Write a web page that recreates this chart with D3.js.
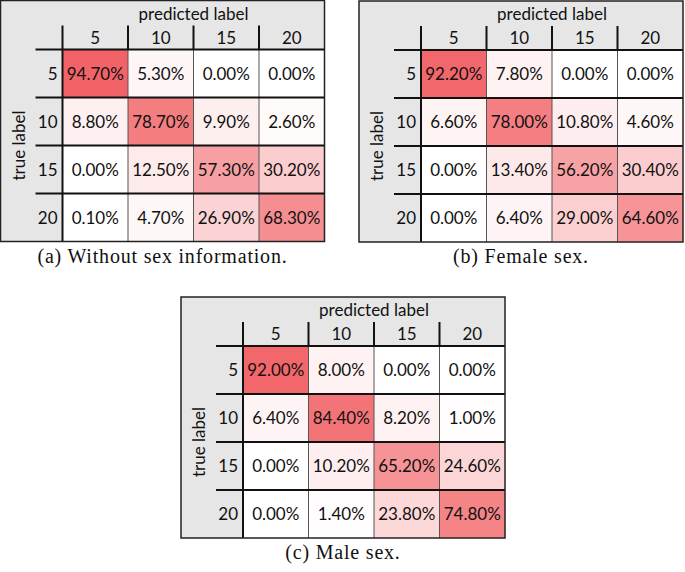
<!DOCTYPE html>
<html><head><meta charset="utf-8">
<script src="https://cdn.jsdelivr.net/npm/d3@7"></script>
<style>body{margin:0;background:#fff;} svg{display:block;}</style>
</head><body>
<script>
const categories = ["5", "10", "15", "20"];
const valuesA = [[94.7, 5.3, 0.0, 0.0], [8.8, 78.7, 9.9, 2.6], [0.0, 12.5, 57.3, 30.2], [0.1, 4.7, 26.9, 68.3]];
const valuesB = [[92.2, 7.8, 0.0, 0.0], [6.6, 78.0, 10.8, 4.6], [0.0, 13.4, 56.2, 30.4], [0.0, 6.4, 29.0, 64.6]];
const valuesC = [[92.0, 8.0, 0.0, 0.0], [6.4, 84.4, 8.2, 1.0], [0.0, 10.2, 65.2, 24.6], [0.0, 1.4, 23.8, 74.8]];
const captions = ["(a) Without sex information.", "(b) Female sex.", "(c) Male sex."];
const xTitle = "predicted label";
const yTitle = "true label";

const W = 685, H = 572;
const svg = d3.select("body").append("svg").attr("width", W).attr("height", H);
const color = d3.scaleLinear().domain([0, 100]).range(["#ffffff", "#f15a5e"]);

const panels = [
  {vals: valuesA, x0: 0.5, y0: 0.5, cap: captions[0]},
  {vals: valuesB, x0: 359, y0: 1, cap: captions[1]},
  {vals: valuesC, x0: 181, y0: 297, cap: captions[2]}
];
const cellFont = "Lato, 'Open Sans', sans-serif";

panels.forEach(p => {
  const g = svg.append("g").attr("transform", `translate(${p.x0},${p.y0})`);
  const gx = 62, gy = 49, gw = 262, gh = 192;
  const x = d3.scaleBand().domain(categories).range([gx, gx + gw]);
  const y = d3.scaleBand().domain(categories).range([gy, gy + gh]);
  g.append("rect").attr("x", 0).attr("y", 0).attr("width", gx + gw).attr("height", gy + gh)
    .attr("fill", "#e6e6e6").attr("stroke", "none");
  const cells = [];
  p.vals.forEach((row, i) => row.forEach((v, j) => cells.push({r: categories[i], c: categories[j], v})));
  g.selectAll("rect.cell").data(cells).enter().append("rect")
    .attr("x", d => x(d.c)).attr("y", d => y(d.r))
    .attr("width", x.bandwidth()).attr("height", y.bandwidth())
    .attr("fill", d => color(d.v));
  g.selectAll("text.val").data(cells).enter().append("text")
    .attr("x", d => x(d.c) + x.bandwidth() / 2).attr("y", d => y(d.r) + y.bandwidth() / 2 + 6)
    .attr("text-anchor", "middle").attr("font-family", cellFont).attr("font-size", 17).attr("fill", "#111")
    .text(d => d.v.toFixed(2) + "%");
  categories.forEach((c, j) => {
    g.append("line").attr("x1", x(c)).attr("x2", x(c)).attr("y1", 25).attr("y2", gy)
      .attr("stroke", "#111").attr("stroke-width", 2);
    g.append("line").attr("x1", x(c)).attr("x2", x(c)).attr("y1", gy).attr("y2", gy + gh)
      .attr("stroke", j === 0 ? "#111" : "#555").attr("stroke-width", j === 0 ? 2 : 1);
  });
  categories.forEach(c => {
    g.append("line").attr("x1", 35).attr("x2", gx + gw).attr("y1", y(c)).attr("y2", y(c))
      .attr("stroke", "#111").attr("stroke-width", 2);
  });
  g.append("rect").attr("x", 0).attr("y", 0).attr("width", gx + gw).attr("height", gy + gh)
    .attr("fill", "none").attr("stroke", "#222").attr("stroke-width", 1.5);
  g.selectAll("text.col").data(categories).enter().append("text")
    .attr("x", d => x(d) + x.bandwidth() / 2).attr("y", 43)
    .attr("text-anchor", "middle").attr("font-family", cellFont).attr("font-size", 17).attr("fill", "#111")
    .text(d => d);
  g.selectAll("text.row").data(categories).enter().append("text")
    .attr("x", 57).attr("y", d => y(d) + y.bandwidth() / 2 + 6)
    .attr("text-anchor", "end").attr("font-family", cellFont).attr("font-size", 17).attr("fill", "#111")
    .text(d => d);
  g.append("text").attr("x", gx + gw / 2).attr("y", 19).attr("text-anchor", "middle")
    .attr("font-family", cellFont).attr("font-size", 17).attr("fill", "#111").text(xTitle);
  g.append("text").attr("transform", `translate(24,${gy + gh / 2}) rotate(-90)`).attr("text-anchor", "middle")
    .attr("font-family", cellFont).attr("font-size", 17).attr("fill", "#111").text(yTitle);
  g.append("text").attr("x", (gx + gw) / 2).attr("y", gy + gh + 21).attr("text-anchor", "middle")
    .attr("font-family", "'Liberation Serif', 'Times New Roman', serif").attr("font-size", 20)
    .attr("letter-spacing", 0.8).attr("fill", "#111").text(p.cap);
});
</script>
</body></html>
